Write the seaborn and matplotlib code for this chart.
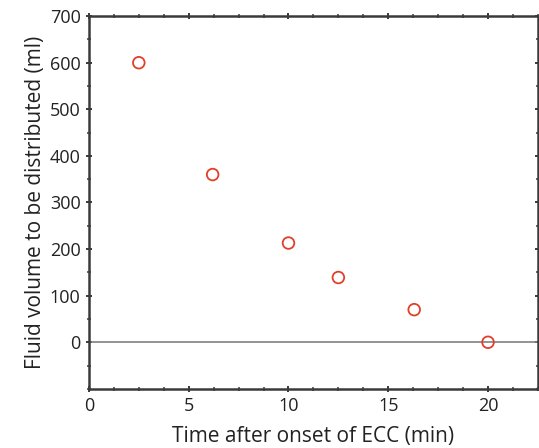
import matplotlib.pyplot as plt
import seaborn as sns
import pandas as pd
from matplotlib.ticker import MultipleLocator

# Data
time_min = [2.5, 6.2, 10.0, 12.5, 16.3, 20.0]
volume_ml = [600, 360, 213, 139, 70, 0]

df = pd.DataFrame({'time': time_min, 'volume': volume_ml})

sns.set_style('ticks')
plt.rcParams['font.family'] = ['Open Sans', 'DejaVu Sans']

fig = plt.figure(figsize=(5.39, 4.48), dpi=100)
ax = fig.add_axes([0.165, 0.132, 0.833, 0.832])

ax.axhline(0, color='#808080', lw=1.2, zorder=1)
sns.scatterplot(data=df, x='time', y='volume', ax=ax, marker='o', s=70,
                facecolor='none', edgecolor='#e0402a', linewidth=1.3, zorder=3)

ax.set_xlim(0, 22.5)
ax.set_ylim(-100, 700)
ax.xaxis.set_major_locator(MultipleLocator(5))
ax.xaxis.set_minor_locator(MultipleLocator(1.25))
ax.set_yticks([0, 100, 200, 300, 400, 500, 600, 700])
ax.yaxis.set_minor_locator(MultipleLocator(50))

for s in ax.spines.values():
    s.set_visible(True)
    s.set_color('#3a3a3a')
    s.set_linewidth(1.8)

ax.tick_params(which='both', direction='inout', color='#3a3a3a',
               top=True, right=True, labelsize=13, labelcolor='#222222')
ax.tick_params(which='major', length=5, width=1.4)
ax.tick_params(which='minor', length=3, width=1.1)

ax.set_xlabel('Time after onset of ECC (min)', fontsize=15, color='#222222', labelpad=8)
ax.set_ylabel('Fluid volume to be distributed (ml)', fontsize=15, color='#222222', labelpad=3)

fig.savefig('out.png', dpi=100)
